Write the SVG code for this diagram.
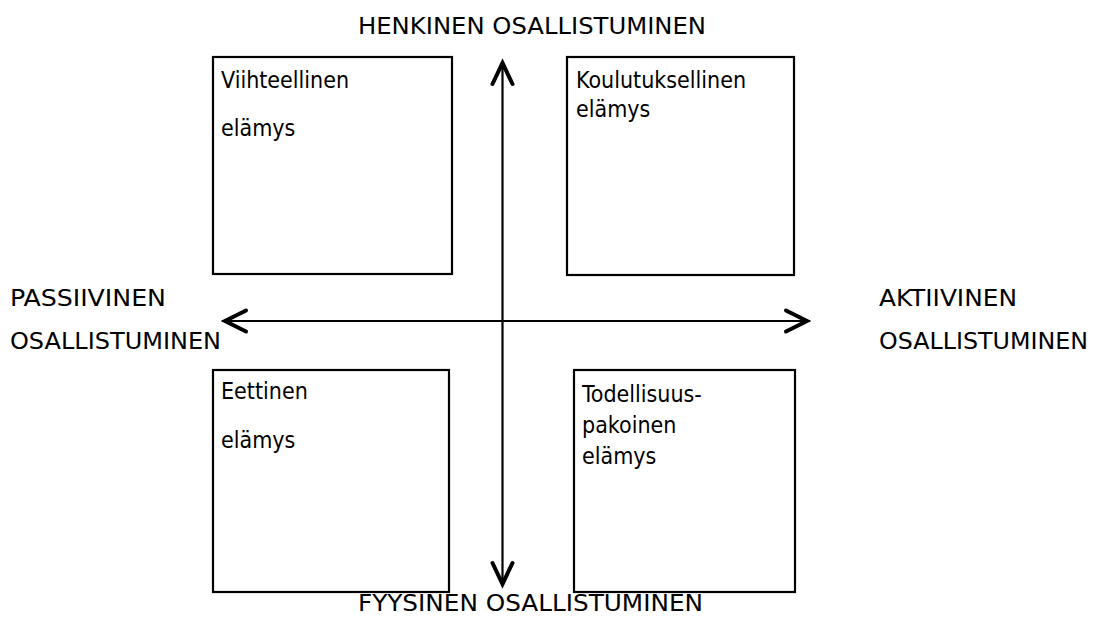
<svg xmlns="http://www.w3.org/2000/svg" width="1096" height="621" viewBox="0 0 1096 621">
<style>
.t{font-family:"DejaVu Sans Condensed","DejaVu Sans",sans-serif;font-size:23px;fill:#000}
.box{fill:#fff;stroke:#000;stroke-width:2.2}
.ax{stroke:#000;stroke-width:2.2;fill:none}
.hd{stroke:#000;stroke-width:4;fill:none;stroke-linecap:round;stroke-linejoin:miter}
</style>
<rect width="1096" height="621" fill="#fff"/>
<g id="connectors">
<line class="ax" x1="502.5" y1="64" x2="502.5" y2="584"/>
<line class="ax" x1="226" y1="321" x2="806" y2="321"/>
<polyline class="hd" points="492.5,84 502.5,63 512.5,84"/>
<polyline class="hd" points="492.5,563 502.5,584 512.5,563"/>
<polyline class="hd" points="246,310.5 225,321 246,331.5"/>
<polyline class="hd" points="786,310.5 807,321 786,331.5"/>
</g>
<g id="axis-top"><text class="t" x="358" y="34" textLength="348" lengthAdjust="spacingAndGlyphs">HENKINEN OSALLISTUMINEN</text></g>
<g id="axis-bottom"><text class="t" x="358" y="611" textLength="345" lengthAdjust="spacingAndGlyphs">FYYSINEN OSALLISTUMINEN</text></g>
<g id="axis-left"><text class="t" x="10" y="306" textLength="156" lengthAdjust="spacingAndGlyphs">PASSIIVINEN</text><text class="t" x="10" y="349" textLength="211" lengthAdjust="spacingAndGlyphs">OSALLISTUMINEN</text></g>
<g id="axis-right"><text class="t" x="879" y="306" textLength="138" lengthAdjust="spacingAndGlyphs">AKTIIVINEN</text><text class="t" x="879" y="349" textLength="209" lengthAdjust="spacingAndGlyphs">OSALLISTUMINEN</text></g>
<g id="node-viihteellinen"><rect class="box" x="213" y="57" width="239" height="217"/><text class="t" x="221" y="88">Viihteellinen</text><text class="t" x="221" y="136">elämys</text></g>
<g id="node-koulutuksellinen"><rect class="box" x="567" y="57" width="227" height="218"/><text class="t" x="576" y="88">Koulutuksellinen</text><text class="t" x="576" y="117">elämys</text></g>
<g id="node-eettinen"><rect class="box" x="213" y="370" width="236" height="222"/><text class="t" x="221" y="399">Eettinen</text><text class="t" x="221" y="448">elämys</text></g>
<g id="node-todellisuuspakoinen"><rect class="box" x="574" y="370" width="221" height="222"/><text class="t" x="582" y="402">Todellisuus-</text><text class="t" x="582" y="433">pakoinen</text><text class="t" x="582" y="464">elämys</text></g>
</svg>
